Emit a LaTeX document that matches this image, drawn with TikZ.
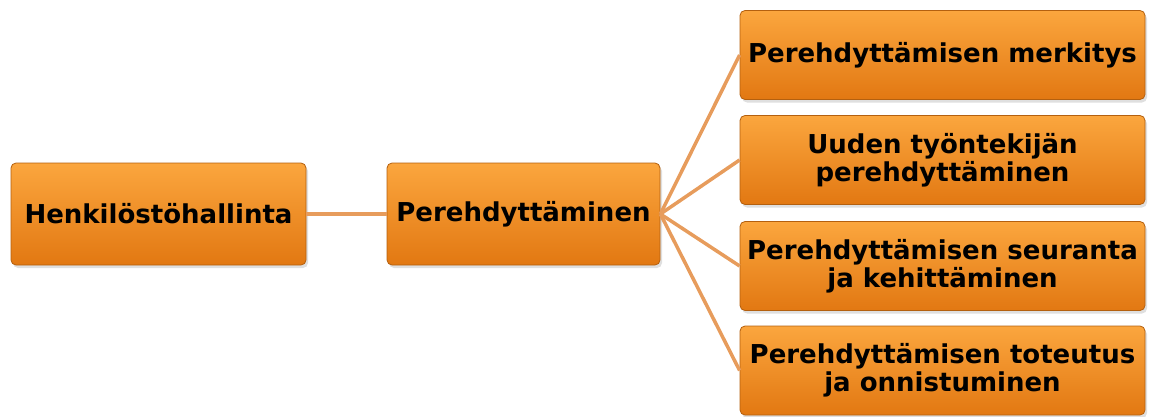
\documentclass[tikz,border=0pt]{standalone}
\usepackage{fontspec}
\setmainfont{DejaVu Sans}
\usetikzlibrary{shadows}
\definecolor{boxtop}{HTML}{FBA63E}
\definecolor{boxmid}{HTML}{F5901F}
\definecolor{boxbot}{HTML}{E27812}
\definecolor{boxline}{HTML}{B4600F}
\definecolor{linkcol}{HTML}{E79C5C}
\tikzset{
  topicbox/.style={rectangle, rounded corners=5pt, draw=boxline, line width=0.8pt,
    top color=boxtop, middle color=boxmid, bottom color=boxbot,
    drop shadow={opacity=0.25, shadow xshift=2pt, shadow yshift=-3pt},
    align=center, inner sep=0pt, font=\fontsize{26}{28}\selectfont\bfseries},
  link/.style={draw=linkcol, line width=3.5pt}
}
\begin{document}
\begin{tikzpicture}[x=1pt, y=1pt]
  \useasboundingbox (0,0) rectangle (1150,416);
  % left part
  \node[topicbox, minimum width=295pt, minimum height=102pt] (hr) at (158.5,202) {Henkilöstöhallinta};
  \node[topicbox, minimum width=273pt, minimum height=102pt] (pd) at (523.5,202) {Perehdyttäminen};
  % right column
  \node[topicbox, minimum width=405pt, minimum height=89pt] (merk) at (942.5,361) {Perehdyttämisen merkitys};
  \node[topicbox, minimum width=405pt, minimum height=89pt] (uusi) at (942.5,256) {Uuden työntekijän\\perehdyttäminen};
  \node[topicbox, minimum width=405pt, minimum height=89pt] (seur) at (942.5,150) {Perehdyttämisen seuranta\\ja kehittäminen};
  \node[topicbox, minimum width=405pt, minimum height=89pt] (tot) at (942.5,45.5) {Perehdyttämisen toteutus\\ja onnistuminen};
  % links
  \draw[link] (hr.east) -- (pd.west);
  \foreach \n in {merk,uusi,seur,tot}
    \draw[link] (pd.east) -- (\n.west);
\end{tikzpicture}
\end{document}
